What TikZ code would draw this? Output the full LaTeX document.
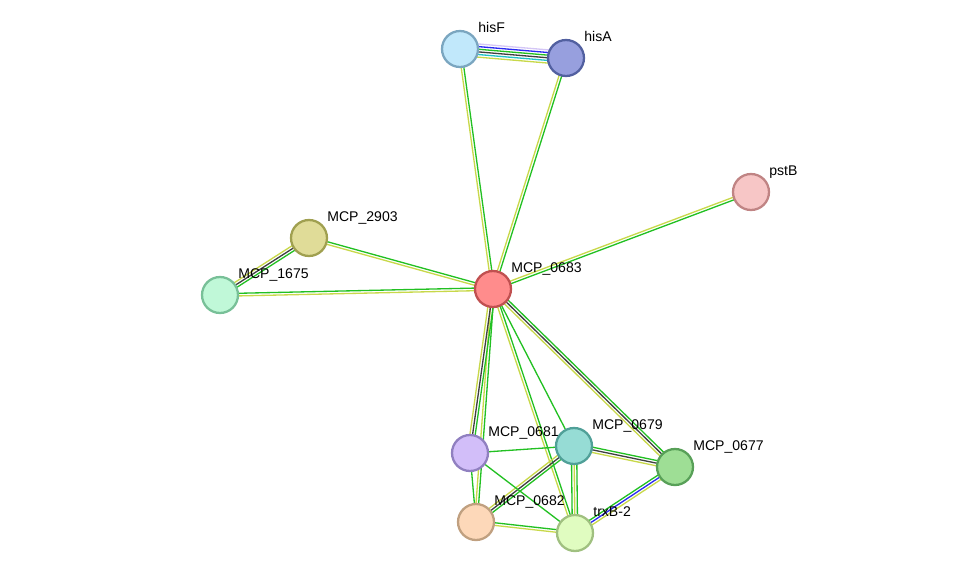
\documentclass[tikz,border=0pt]{standalone}
\usepackage{fontspec}
\setmainfont{Liberation Sans}
\usetikzlibrary{calc,backgrounds}
\definecolor{tmine}{HTML}{C8D84A}
\definecolor{dbase}{HTML}{22C0C8}
\definecolor{expt}{HTML}{B8A0F0}
\definecolor{coex}{HTML}{404040}
\definecolor{cooc}{HTML}{2A2AF0}
\definecolor{nbhd}{HTML}{22C022}
% node fill / rim colours
\definecolor{hisFf}{HTML}{C1E8FB}\definecolor{hisFd}{HTML}{7BA6C0}
\definecolor{hisAf}{HTML}{979FDE}\definecolor{hisAd}{HTML}{5260A0}
\definecolor{pstBf}{HTML}{F7C6C6}\definecolor{pstBd}{HTML}{C08484}
\definecolor{m2903f}{HTML}{E0DC98}\definecolor{m2903d}{HTML}{A0A050}
\definecolor{m1675f}{HTML}{C0F8D8}\definecolor{m1675d}{HTML}{78C098}
\definecolor{m0683f}{HTML}{FF8C8C}\definecolor{m0683d}{HTML}{C05050}
\definecolor{m0681f}{HTML}{D2BEF9}\definecolor{m0681d}{HTML}{9080C0}
\definecolor{m0679f}{HTML}{96DCD5}\definecolor{m0679d}{HTML}{50A098}
\definecolor{m0677f}{HTML}{9EDE95}\definecolor{m0677d}{HTML}{58A058}
\definecolor{m0682f}{HTML}{FDD8B9}\definecolor{m0682d}{HTML}{C0A080}
\definecolor{trxBf}{HTML}{E0FCC0}\definecolor{trxBd}{HTML}{A0C080}
\tikzset{
  prot/.style={circle, minimum size=0.72cm, inner sep=0pt, line width=1.3pt,
    fill=#1f, draw=#1d},
  lbl/.style={anchor=base west, inner sep=0pt, font=\fontsize{8}{9}\selectfont},
  ln/.style={line width=0.75pt}
}
% parallel edge: \pedge{a}{b}{offset}{colour}
\newcommand{\pedge}[4]{\draw[ln,#4] ($(#1)!#3!90:(#2)$) -- ($(#2)!#3!-90:(#1)$);}
\begin{document}
\begin{tikzpicture}[x=0.02cm,y=-0.02cm]
    \useasboundingbox (0,0) rectangle (975,579);
    % Proteins
    \node[prot=hisF] (hisF) at (460,49) {};
    \node[prot=hisA] (hisA) at (566,58) {};
    \node[prot=pstB] (pstB) at (751,192) {};
    \node[prot=m2903] (m2903) at (309,238) {};
    \node[prot=m1675] (m1675) at (220,295) {};
    \node[prot=m0683] (m0683) at (493,289) {};
    \node[prot=m0681] (m0681) at (470,453) {};
    \node[prot=m0679] (m0679) at (574,446) {};
    \node[prot=m0677] (m0677) at (675,467) {};
    \node[prot=m0682] (m0682) at (476,522) {};
    \node[prot=trxB] (trxB) at (575,533) {};

    % Labels
    \node[lbl] at (478,32) {hisF};
    \node[lbl] at (584,41) {hisA};
    \node[lbl] at (769,175) {pstB};
    \node[lbl] at (327,221) {MCP\_2903};
    \node[lbl] at (238,278) {MCP\_1675};
    \node[lbl] at (511,272) {MCP\_0683};
    \node[lbl] at (488,436) {MCP\_0681};
    \node[lbl] at (592,429) {MCP\_0679};
    \node[lbl] at (693,450) {MCP\_0677};
    \node[lbl] at (494,505) {MCP\_0682};
    \node[lbl] at (593,516) {trxB-2};

    % Interactions
    \begin{scope}[on background layer]
    \pedge{hisF}{hisA}{3.75pt}{expt!60}
    \pedge{hisF}{hisA}{2.25pt}{cooc}
    \pedge{hisF}{hisA}{0.75pt}{nbhd}
    \pedge{hisF}{hisA}{-0.75pt}{coex}
    \pedge{hisF}{hisA}{-2.25pt}{dbase}
    \pedge{hisF}{hisA}{-3.75pt}{tmine}
    \foreach \a/\b in {hisF/m0683, hisA/m0683, pstB/m0683, m2903/m0683,
        m1675/m0683, m0683/m0682, m0683/trxB, m0682/trxB} {
      \pedge{\a}{\b}{0.75pt}{nbhd}
      \pedge{\a}{\b}{-0.75pt}{tmine}
    }
    \foreach \a/\b in {m2903/m1675, m0683/m0681, m0683/m0677, m0679/m0677, m0679/m0682} {
      \pedge{\a}{\b}{1.5pt}{nbhd}
      \pedge{\a}{\b}{0pt}{coex}
      \pedge{\a}{\b}{-1.5pt}{tmine}
    }
    \pedge{m0679}{trxB}{1.5pt}{nbhd}
    \pedge{m0679}{trxB}{0pt}{tmine}
    \pedge{m0679}{trxB}{-1.5pt}{nbhd}
    \pedge{m0677}{trxB}{1.5pt}{tmine}
    \pedge{m0677}{trxB}{0pt}{cooc}
    \pedge{m0677}{trxB}{-1.5pt}{nbhd}
    \foreach \a/\b in {m0683/m0679, m0681/m0679, m0681/m0682, m0681/trxB}
      \draw[ln,nbhd] (\a) -- (\b);
    \end{scope}
\end{tikzpicture}
\end{document}
